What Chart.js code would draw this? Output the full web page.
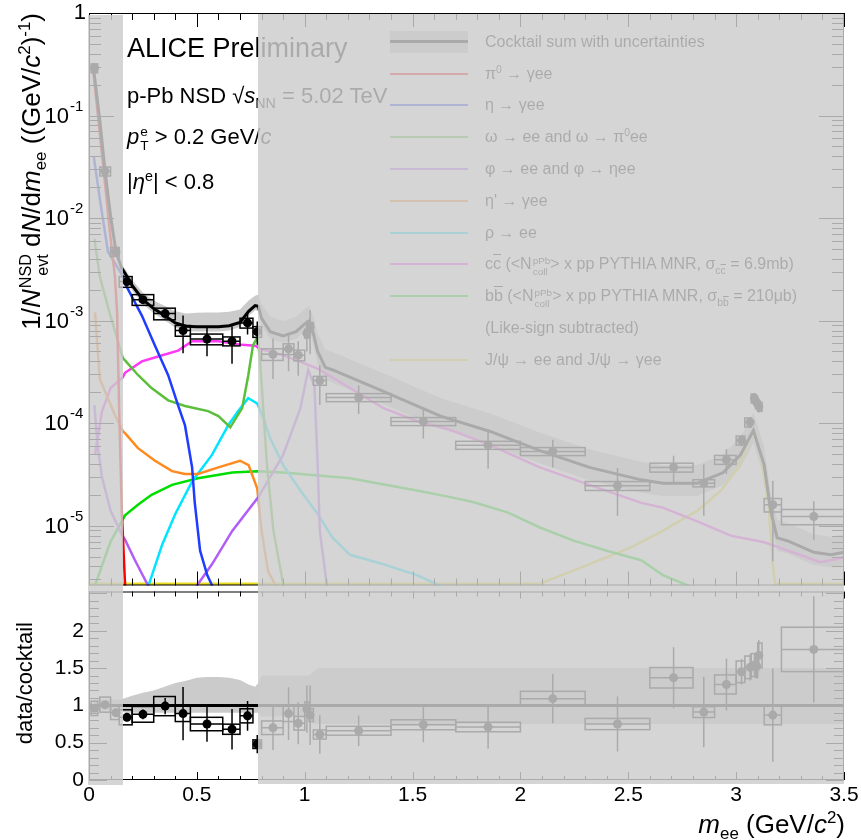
<!DOCTYPE html>
<html>
<head>
<meta charset="utf-8">
<script src="https://cdn.jsdelivr.net/npm/chart.js@4.4.1/dist/chart.umd.min.js"></script>
<style>
  body { margin: 0; background: #fff; }
  #wrap { position: relative; width: 861px; height: 840px; overflow: hidden;
          font-family: "Liberation Sans", Arial, sans-serif; color: #000; }
  canvas { position: absolute; left: 0; }
  .txt { position: absolute; white-space: nowrap; }
  .mask { position: absolute; background: rgba(204, 204, 204, 0.83); z-index: 5; }
  sup, sub { font-size: 0.65em; line-height: 0; }
  .ss { display: inline-flex; flex-direction: column; font-size: 0.62em; line-height: 1.05;
        vertical-align: 0.55em; margin-left: 1px; }
  .ob { text-decoration: overline; }
  .leg { position: absolute; font-size: 16px; line-height: 16px; white-space: nowrap; }
  .legline { position: absolute; height: 2px; }
</style>
</head>
<body>
<div id="wrap">
  <canvas id="spec" width="861" height="590" style="top:0"></canvas>
  <canvas id="ratio" width="861" height="253" style="top:587px"></canvas>

  <div class="txt" style="left:127px; top:35px; font-size:27px; line-height:27px;">ALICE Preliminary</div>
  <div class="txt" style="left:127px; top:85px; font-size:22px; line-height:22px;">p-Pb NSD √<i>s</i><sub>NN</sub> = 5.02 TeV</div>
  <div class="txt" style="left:127px; top:125px; font-size:22px; line-height:22px;"><i>p</i><span class="ss"><span>e</span><span>T</span></span> &gt; 0.2 GeV/<i>c</i></div>
  <div class="txt" style="left:127px; top:171px; font-size:22px; line-height:22px;">|<i>η</i><sup>e</sup>| &lt; 0.8</div>

  <div class="txt" style="left:0; top:0; width:420px; text-align:right; font-size:26px; line-height:30px; transform-origin:0 0; transform:translate(16px, 433px) rotate(-90deg);">1/<i>N</i><span class="ss"><span>NSD</span><span>evt</span></span> d<i>N</i>/d<i>m</i><sub>ee</sub> ((GeV/<i>c</i><sup>2</sup>)<sup>-1</sup>)</div>
  <div class="txt" style="left:0; top:0; width:200px; text-align:right; font-size:22px; line-height:26px; transform-origin:0 0; transform:translate(12px, 822px) rotate(-90deg);">data/cocktail</div>
  <div class="txt" style="right:16px; top:811px; font-size:26px; line-height:26px;"><i>m</i><sub>ee</sub> (GeV/<i>c</i><sup>2</sup>)</div>

  <div id="legend"></div>
  <div id="maskL" class="mask"></div>
  <div id="maskR" class="mask"></div>
</div>
<script>
// measured dielectron yield, p-Pb 5.02 TeV
const pointMass = [0.025, 0.074, 0.125, 0.176, 0.25, 0.353, 0.436, 0.547, 0.663, 0.735, 0.78, 0.853, 0.925, 0.97, 1.01, 1.025, 1.07, 1.25, 1.55, 1.85, 2.15, 2.45, 2.71, 2.85, 2.955, 3.025, 3.065, 3.085, 3.095, 3.105, 3.17, 3.36];
const binLow   = [0.01, 0.05, 0.10, 0.14, 0.20, 0.30, 0.40, 0.47, 0.62, 0.70, 0.76, 0.80, 0.90, 0.95, 1.00, 1.02, 1.04, 1.10, 1.40, 1.70, 2.00, 2.30, 2.60, 2.80, 2.90, 3.00, 3.04, 3.07, 3.09, 3.10, 3.13, 3.21];
const binHigh  = [0.04, 0.10, 0.14, 0.20, 0.30, 0.40, 0.47, 0.62, 0.70, 0.76, 0.80, 0.90, 0.95, 1.00, 1.02, 1.04, 1.10, 1.40, 1.70, 2.00, 2.30, 2.60, 2.80, 2.90, 3.00, 3.04, 3.07, 3.09, 3.10, 3.12, 3.21, 3.50];
const yieldVal = [0.29, 0.0286, 0.0047, 0.0024, 0.0016, 0.00117, 0.0008, 0.00066, 0.00063, 0.00095, 0.00078, 0.00047, 0.00053, 0.00046, 0.00075, 0.00087, 0.00026, 0.000178, 0.000104, 6.1e-5, 5.3e-5, 2.45e-5, 3.7e-5, 2.6e-5, 4.4e-5, 6.8e-5, 1.02e-4, 1.75e-4, 1.6e-4, 1.45e-4, 1.6e-5, 1.23e-5];
const yieldStat = [0.008, 0.0009, 0.00025, 0.00015, 0.00012, 0.00013, 0.00032, 0.00021, 0.00025, 0.00022, 0.0002, 0.0002, 0.00021, 0.00017, 0.00025, 0.0004, 0.00011, 5.5e-5, 3.3e-5, 2.5e-5, 1.6e-5, 1.2e-5, 1.1e-5, 1.35e-5, 1.2e-5, 8e-6, 1.2e-5, 1.8e-5, 1.8e-5, 1.8e-5, 1.15e-5, 5e-6];
const sysRel   = [0.1, 0.1, 0.1, 0.12, 0.12, 0.13, 0.12, 0.12, 0.1, 0.11, 0.12, 0.13, 0.12, 0.12, 0.1, 0.1, 0.1, 0.09, 0.09, 0.09, 0.09, 0.1, 0.1, 0.08, 0.1, 0.1, 0.1, 0.1, 0.1, 0.1, 0.15, 0.17];
const ratioVal = [0.96, 1.01, 0.9, 0.84, 0.88, 0.99, 0.89, 0.75, 0.68, 0.86, 0.48, 0.7, 0.89, 0.76, 0.95, 0.87, 0.61, 0.66, 0.74, 0.71, 1.09, 0.75, 1.37, 0.91, 1.28, 1.45, 1.51, 1.54, 1.53, 1.67, 0.87, 1.75];

// cocktail sum and its relative uncertainty band
const cocktailMass = [0.02, 0.05, 0.075, 0.1, 0.125, 0.15, 0.167, 0.2, 0.25, 0.3, 0.35, 0.4, 0.45, 0.5, 0.55, 0.6, 0.65, 0.7, 0.74, 0.77, 0.785, 0.8, 0.84, 0.9, 0.96, 1.0, 1.02, 1.04, 1.06, 1.095, 1.13, 1.365, 1.63, 1.86, 2.09, 2.32, 2.56, 2.66, 2.82, 2.94, 3.02, 3.08, 3.13, 3.16, 3.19, 3.24, 3.36, 3.44, 3.5];
const cocktailSum  = [0.30, 0.09, 0.028, 0.0105, 0.0047, 0.0033, 0.0029, 0.0022, 0.0016, 0.00131, 0.00112, 0.00095, 0.00088, 0.00087, 0.00087, 0.00087, 0.00089, 0.00096, 0.00123, 0.0014, 0.00138, 0.00105, 0.00078, 0.00071, 0.00078, 0.00093, 0.00099, 0.00075, 0.0005, 0.00035, 0.00033, 0.000204, 0.000117, 8.3e-5, 5.4e-5, 3.7e-5, 2.8e-5, 2.6e-5, 2.6e-5, 3.3e-5, 4.9e-5, 8.5e-5, 3.9e-5, 1.4e-5, 7.6e-6, 7.1e-6, 5.5e-6, 5.2e-6, 5.5e-6];
const bandHi = [1.08, 1.08, 1.08, 1.08, 1.08, 1.08, 1.10, 1.13, 1.17, 1.2, 1.25, 1.3, 1.33, 1.37, 1.38, 1.38, 1.37, 1.34, 1.28, 1.25, 1.3, 1.4, 1.4, 1.4, 1.4, 1.4, 1.4, 1.45, 1.5, 1.5, 1.5, 1.5, 1.5, 1.5, 1.5, 1.5, 1.5, 1.5, 1.5, 1.5, 1.5, 1.5, 1.5, 1.5, 1.5, 1.5, 1.5, 1.5, 1.5];
const bandLo = [0.93, 0.93, 0.93, 0.93, 0.93, 0.93, 0.9, 0.9, 0.9, 0.9, 0.9, 0.9, 0.9, 0.9, 0.9, 0.9, 0.9, 0.9, 0.9, 0.9, 0.9, 0.85, 0.85, 0.85, 0.85, 0.85, 0.85, 0.75, 0.75, 0.75, 0.75, 0.75, 0.75, 0.75, 0.75, 0.75, 0.75, 0.75, 0.75, 0.75, 0.75, 0.75, 0.75, 0.75, 0.75, 0.75, 0.75, 0.75, 0.75];

// cocktail components
const pi0Mass  = [0.02, 0.066, 0.097, 0.12, 0.13, 0.14, 0.152, 0.167, 0.172];
const pi0Yield = [0.27, 0.032, 0.0073, 0.0027, 0.00122, 0.00013, 1.4e-5, 2.7e-6, 1e-6];
const etaMass  = [0.022, 0.051, 0.088, 0.158, 0.167, 0.245, 0.306, 0.367, 0.413, 0.445, 0.478, 0.49, 0.515, 0.548, 0.575, 0.6];
const etaYield = [0.04, 0.015, 0.0047, 0.0027, 0.0023, 0.00112, 0.00057, 0.000294, 0.000149, 9.5e-5, 3.7e-5, 1.7e-5, 5.7e-6, 3.3e-6, 2.5e-6, 1.5e-6];
const omegaMass  = [0.025, 0.05, 0.1, 0.157, 0.167, 0.227, 0.29, 0.367, 0.445, 0.552, 0.6, 0.655, 0.71, 0.738, 0.76, 0.782, 0.795, 0.825, 0.855, 0.9, 0.92];
const omegaYield = [0.0063, 0.0027, 0.0011, 0.00043, 0.00041, 0.000295, 0.00022, 0.000167, 0.000147, 0.000131, 0.000117, 9.1e-5, 1.4e-4, 2.9e-4, 5.7e-4, 7.0e-4, 3.6e-4, 3.9e-5, 8.9e-6, 2.7e-6, 1.5e-6];
const phiMass  = [0.025, 0.04, 0.06, 0.1, 0.155, 0.167, 0.213, 0.27, 0.3, 0.47, 0.5, 0.57, 0.664, 0.785, 0.9, 0.98, 1.016, 1.045, 1.06, 1.07, 1.1, 1.12];
const phiYield = [1.5e-4, 6e-5, 3e-5, 1.4e-5, 8e-6, 7.3e-6, 4.6e-6, 2.7e-6, 1.8e-6, 1.8e-6, 2.6e-6, 4.2e-6, 8.9e-6, 1.9e-5, 4.9e-5, 1.4e-4, 3.3e-4, 2.3e-4, 3.9e-5, 8.9e-6, 2.9e-6, 1.5e-6];
const etapMass  = [0.028, 0.05, 0.12, 0.158, 0.167, 0.227, 0.306, 0.385, 0.445, 0.505, 0.6, 0.7, 0.74, 0.78, 0.8, 0.83, 0.865, 0.9];
const etapYield = [0.0012, 2.7e-4, 1.2e-4, 8.3e-5, 8e-5, 5.7e-5, 4.3e-5, 3.4e-5, 3.2e-5, 3.2e-5, 3.7e-5, 4.3e-5, 3.9e-5, 2.3e-5, 8.9e-6, 3.6e-6, 2.6e-6, 1.5e-6];
const rhoMass  = [0.27, 0.34, 0.4, 0.478, 0.57, 0.645, 0.69, 0.738, 0.77, 0.78, 0.81, 0.84, 0.9, 0.98, 1.06, 1.13, 1.21, 1.365, 1.52, 1.61, 1.7];
const rhoYield = [2.4e-6, 6.6e-6, 1.3e-5, 2.7e-5, 4.9e-5, 9.5e-5, 1.3e-4, 1.75e-4, 1.6e-4, 1.55e-4, 1.1e-4, 7.1e-5, 3.9e-5, 2.2e-5, 1.3e-5, 7.6e-6, 5.2e-6, 4.2e-6, 3.3e-6, 2.7e-6, 2.2e-6];
const ccMass  = [0.028, 0.06, 0.1, 0.157, 0.167, 0.245, 0.34, 0.413, 0.478, 0.6, 0.71, 0.77, 0.795, 0.9, 1.06, 1.21, 1.365, 1.52, 1.675, 1.86, 2.09, 2.32, 2.56, 2.66, 2.82, 2.975, 3.13, 3.285, 3.39, 3.5];
const ccYield = [5e-5, 1.3e-4, 2.2e-4, 2.8e-4, 3.1e-4, 4.0e-4, 4.6e-4, 5.1e-4, 6.3e-4, 6.3e-4, 5.8e-4, 5.7e-4, 5.3e-4, 4.6e-4, 3.4e-4, 2.2e-4, 1.4e-4, 1.05e-4, 8.6e-5, 6.1e-5, 3.7e-5, 2.5e-5, 1.67e-5, 1.5e-5, 1.1e-5, 8e-6, 6.9e-6, 5.3e-6, 4.4e-6, 4.9e-6];
const bbMass  = [0.03, 0.1, 0.157, 0.167, 0.227, 0.29, 0.385, 0.505, 0.664, 0.78, 0.9, 1.21, 1.52, 1.675, 1.78, 1.94, 2.09, 2.25, 2.4, 2.56, 2.66, 2.76, 2.9];
const bbYield = [2.7e-6, 7e-6, 1.15e-5, 1.26e-5, 1.6e-5, 2.0e-5, 2.5e-5, 2.9e-5, 3.3e-5, 3.4e-5, 3.3e-5, 2.9e-5, 2.2e-5, 1.9e-5, 1.7e-5, 1.35e-5, 9.6e-6, 7.1e-6, 5.7e-6, 4.6e-6, 3.3e-6, 2.7e-6, 2.0e-6];
const jpsiMass  = [0.0, 2.09, 2.28, 2.51, 2.66, 2.82, 2.93, 3.01, 3.05, 3.08, 3.11, 3.15, 3.17, 3.18, 3.5];
const jpsiYield = [2.72e-6, 2.72e-6, 3.9e-6, 6.1e-6, 8.9e-6, 1.4e-5, 2.2e-5, 3.7e-5, 6.1e-5, 8.3e-5, 5.4e-5, 1.6e-5, 4.2e-6, 2.72e-6, 2.72e-6];

// axes
const massTicks = [0, 0.5, 1, 1.5, 2, 2.5, 3, 3.5];
const ratioTicks = [0, 0.5, 1, 1.5, 2];
const decadeExp = [0, -1, -2, -3, -4, -5];
const unityMass = [0, 3.5];
const unityVal = [1, 1];
// mass window left visible (shaded outside)
const shadeLow = 0.158, shadeHigh = 0.784;

const nColl = '&lt;N<span class="ss"><span>pPb</span><span>coll</span></span>&gt;';
const components = [
  { label: 'π<sup>0</sup> → γee', color: '#ff0000', mass: pi0Mass, val: pi0Yield },
  { label: 'η → γee', color: '#1f3cff', mass: etaMass, val: etaYield },
  { label: 'ω → ee and ω → π<sup>0</sup>ee', color: '#5bbf3c', mass: omegaMass, val: omegaYield },
  { label: 'φ → ee and φ → ηee', color: '#b05ef5', mass: phiMass, val: phiYield },
  { label: "η' → γee", color: '#ff8a20', mass: etapMass, val: etapYield },
  { label: 'ρ → ee', color: '#00e5ff', mass: rhoMass, val: rhoYield },
  { label: 'c<span class="ob">c</span> (' + nColl + ' x pp PYTHIA MNR, σ<sub>c<span class="ob">c</span></sub> = 6.9mb)', color: '#ff38f5', mass: ccMass, val: ccYield },
  { label: 'b<span class="ob">b</span> (' + nColl + ' x pp PYTHIA MNR, σ<sub>b<span class="ob">b</span></sub> = 210μb)', color: '#00dd00', mass: bbMass, val: bbYield, note: '(Like-sign subtracted)' },
  { label: 'J/ψ → ee and J/ψ → γee', color: '#e8dc1e', mass: jpsiMass, val: jpsiYield }
];

const pts = (xs, ys) => xs.map((x, i) => ({ x: x, y: ys[i] }));

Chart.defaults.font.family = '"Liberation Sans", Arial, sans-serif';
Chart.defaults.color = '#000';

// ROOT-like frame with inward ticks on all four sides
const framePlugin = {
  id: 'frame',
  afterDraw(chart, args, o) {
    const { ctx, chartArea: a } = chart;
    const xs = chart.scales.x, ys = chart.scales.y;
    ctx.save();
    ctx.strokeStyle = '#000';
    ctx.lineWidth = 1;
    ctx.beginPath();
    for (let i = 0; i <= 35; i++) {
      const px = Math.round(xs.getPixelForValue(i / 10)) + 0.5;
      const major = i % 5 === 0;
      const lt = major ? o.xTop[0] : o.xTop[1];
      const lb = major ? o.xBottom[0] : o.xBottom[1];
      ctx.moveTo(px, a.top); ctx.lineTo(px, a.top + lt);
      ctx.moveTo(px, a.bottom); ctx.lineTo(px, a.bottom - lb);
    }
    const yt = [];
    if (ys.type === 'logarithmic') {
      for (let k = -6; k <= 0; k++) {
        for (let m = 1; m <= 9; m++) {
          const v = m * Math.pow(10, k);
          if (v >= ys.min && v <= ys.max) yt.push({ v: v, major: m === 1 });
        }
      }
    } else {
      for (let i = 0; i / 10 <= ys.max; i++) yt.push({ v: i / 10, major: i % 5 === 0 });
    }
    for (const t of yt) {
      const py = Math.round(ys.getPixelForValue(t.v)) + 0.5;
      const l = t.major ? o.yLen[0] : o.yLen[1];
      ctx.moveTo(a.left, py); ctx.lineTo(a.left + l, py);
      ctx.moveTo(a.right, py); ctx.lineTo(a.right - l, py);
    }
    ctx.stroke();
    ctx.strokeRect(a.left + 0.5, a.top + 0.5, a.right - a.left - 1, a.bottom - a.top - 1);
    ctx.restore();
  }
};

// systematic boxes and statistical bars, drawn just under the markers
const errorPlugin = {
  id: 'errors',
  beforeDatasetDraw(chart, args) {
    const ds = chart.data.datasets[args.index];
    if (!ds.errorSet) return;
    const { ctx, chartArea: a } = chart;
    const xs = chart.scales.x, ys = chart.scales.y;
    ctx.save();
    ctx.beginPath();
    ctx.rect(a.left, a.top, a.right - a.left, a.bottom - a.top);
    ctx.clip();
    ctx.strokeStyle = '#000';
    ctx.lineWidth = 1.5;
    pointMass.forEach((m, i) => {
      const v = ds.errorSet === 'ratio' ? ratioVal[i] : yieldVal[i];
      const st = v * yieldStat[i] / yieldVal[i];
      const x0 = xs.getPixelForValue(binLow[i]), x1 = xs.getPixelForValue(binHigh[i]);
      const yT = ys.getPixelForValue(v * (1 + sysRel[i])), yB = ys.getPixelForValue(v * (1 - sysRel[i]));
      const xc = xs.getPixelForValue(m), yc = ys.getPixelForValue(v);
      ctx.strokeRect(x0, yT, x1 - x0, yB - yT);
      ctx.beginPath();
      ctx.moveTo(x0, yc); ctx.lineTo(x1, yc);
      ctx.moveTo(xc, ys.getPixelForValue(v + st)); ctx.lineTo(xc, ys.getPixelForValue(v - st));
      ctx.stroke();
    });
    ctx.restore();
  }
};

// power-of-ten labels on the log axis
const decadePlugin = {
  id: 'decades',
  afterDraw(chart) {
    const { ctx, chartArea: a } = chart;
    const ys = chart.scales.y;
    ctx.save();
    ctx.fillStyle = '#000';
    ctx.textBaseline = 'middle';
    for (const k of decadeExp) {
      const py = ys.getPixelForValue(Math.pow(10, k));
      ctx.font = '22px "Liberation Sans"';
      if (k === 0) {
        ctx.textAlign = 'right';
        ctx.fillText('1', a.left - 3, py);
        continue;
      }
      ctx.textAlign = 'right';
      ctx.fillText('10', a.left - 20, py + 1);
      ctx.font = '15px "Liberation Sans"';
      ctx.textAlign = 'left';
      ctx.fillText(String(k), a.left - 19, py - 9);
    }
    ctx.restore();
  }
};

const noPad = s => { s.paddingLeft = 0; s.paddingRight = 0; s.paddingTop = 0; s.paddingBottom = 0; };

const specSets = [
  { label: 'data', data: pts(pointMass, yieldVal), showLine: false, pointRadius: 4.5, pointBorderWidth: 0,
    pointBackgroundColor: '#000', errorSet: 'yield', order: 0 },
  { label: 'cocktail', data: pts(cocktailMass, cocktailSum), borderColor: '#000', borderWidth: 3, order: 1 }
];
components.forEach((c, i) => specSets.push({
  label: c.label, data: pts(c.mass, c.val), borderColor: c.color, borderWidth: 2.5, order: 2 + i
}));
specSets.push(
  { label: 'band hi', data: cocktailMass.map((m, i) => ({ x: m, y: cocktailSum[i] * bandHi[i] })),
    borderWidth: 0, fill: '+1', backgroundColor: '#cbcbcb', order: 20 },
  { label: 'band lo', data: cocktailMass.map((m, i) => ({ x: m, y: cocktailSum[i] * bandLo[i] })),
    borderWidth: 0, fill: false, order: 21 }
);

const specChart = new Chart(document.getElementById('spec'), {
  type: 'line',
  data: { datasets: specSets },
  options: {
    responsive: false, animation: false, devicePixelRatio: 1,
    layout: { padding: { top: 13, right: 17, bottom: 2, left: 0 } },
    elements: { point: { radius: 0 }, line: { tension: 0 } },
    plugins: {
      legend: { display: false }, tooltip: { enabled: false },
      frame: { xTop: [14, 7], xBottom: [14, 7], yLen: [25, 12] }
    },
    scales: {
      x: { type: 'linear', min: 0, max: 3.5, display: false },
      y: { type: 'logarithmic', min: 2.61e-6, max: 1,
           ticks: { display: false }, grid: { display: false, drawTicks: false }, border: { display: false },
           afterFit: s => { s.width = 89; noPad(s); } }
    }
  },
  plugins: [errorPlugin, framePlugin, decadePlugin]
});

const ratioChart = new Chart(document.getElementById('ratio'), {
  type: 'line',
  data: {
    datasets: [
      { label: 'data/cocktail', data: pts(pointMass, ratioVal), showLine: false, pointRadius: 4.5, pointBorderWidth: 0,
        pointBackgroundColor: '#000', errorSet: 'ratio', order: 0 },
      { label: 'unity', data: pts(unityMass, unityVal), borderColor: '#000', borderWidth: 3, order: 1 },
      { label: 'band hi', data: pts(cocktailMass, bandHi), borderWidth: 0, fill: '+1', backgroundColor: '#cbcbcb', order: 5 },
      { label: 'band lo', data: pts(cocktailMass, bandLo), borderWidth: 0, fill: false, order: 6 }
    ]
  },
  options: {
    responsive: false, animation: false, devicePixelRatio: 1,
    layout: { padding: { top: 1, right: 17, bottom: 0, left: 0 } },
    elements: { point: { radius: 0 }, line: { tension: 0 } },
    plugins: {
      legend: { display: false }, tooltip: { enabled: false },
      frame: { xTop: [7, 5], xBottom: [8, 4], yLen: [18, 10] }
    },
    scales: {
      x: { type: 'linear', min: 0, max: 3.5,
           grid: { display: false, drawTicks: false }, border: { display: false },
           ticks: { font: { size: 21 }, padding: 3, autoSkip: false, maxRotation: 0, minRotation: 0,
                    callback: v => String(v) },
           afterBuildTicks: s => { s.ticks = massTicks.map(v => ({ value: v })); },
           afterFit: s => { s.height = 60; noPad(s); } },
      y: { type: 'linear', min: 0, max: 2.526,
           grid: { display: false, drawTicks: false }, border: { display: false },
           ticks: { font: { size: 21 }, padding: 5, callback: v => String(v) },
           afterBuildTicks: s => { s.ticks = ratioTicks.map(v => ({ value: v })); },
           afterFit: s => { s.width = 89; noPad(s); } }
    }
  },
  plugins: [errorPlugin, framePlugin]
});

// legend inside the spectrum panel
(function buildLegend() {
  const box = document.getElementById('legend');
  const rows = [{ label: 'Cocktail sum with uncertainties', color: '#000', band: true }];
  components.forEach(c => {
    rows.push(c);
    if (c.note) rows.push({ label: c.note });
  });
  rows.forEach((r, i) => {
    const yc = 41.7 + 31.8 * i;
    if (r.band) {
      const b = document.createElement('div');
      b.style.cssText = `position:absolute;left:390px;width:78px;top:${yc - 11}px;height:22px;background:#cbcbcb;`;
      box.appendChild(b);
    }
    if (r.color) {
      const l = document.createElement('div');
      l.className = 'legline';
      const h = r.band ? 3 : 2;
      l.style.cssText += `left:390px;width:78px;top:${yc - h / 2}px;height:${h}px;background:${r.color};`;
      box.appendChild(l);
    }
    const t = document.createElement('div');
    t.className = 'leg';
    t.style.left = '485px';
    t.style.top = (yc - 8) + 'px';
    t.innerHTML = r.label;
    box.appendChild(t);
  });
})();

// grey shading outside the highlighted mass window
(function placeShade() {
  const xs = specChart.scales.x;
  const top = specChart.chartArea.top + 1;
  const bottom = 587 + ratioChart.chartArea.bottom + 4;
  const set = (id, x0, y0, x1, y1) => {
    const el = document.getElementById(id);
    el.style.left = x0 + 'px'; el.style.top = y0 + 'px';
    el.style.width = (x1 - x0) + 'px'; el.style.height = (y1 - y0) + 'px';
  };
  set('maskL', xs.left - 1, top + 1, xs.getPixelForValue(shadeLow), bottom + 1);
  set('maskR', xs.getPixelForValue(shadeHigh), top, xs.right, bottom);
})();
</script>
</body>
</html>
